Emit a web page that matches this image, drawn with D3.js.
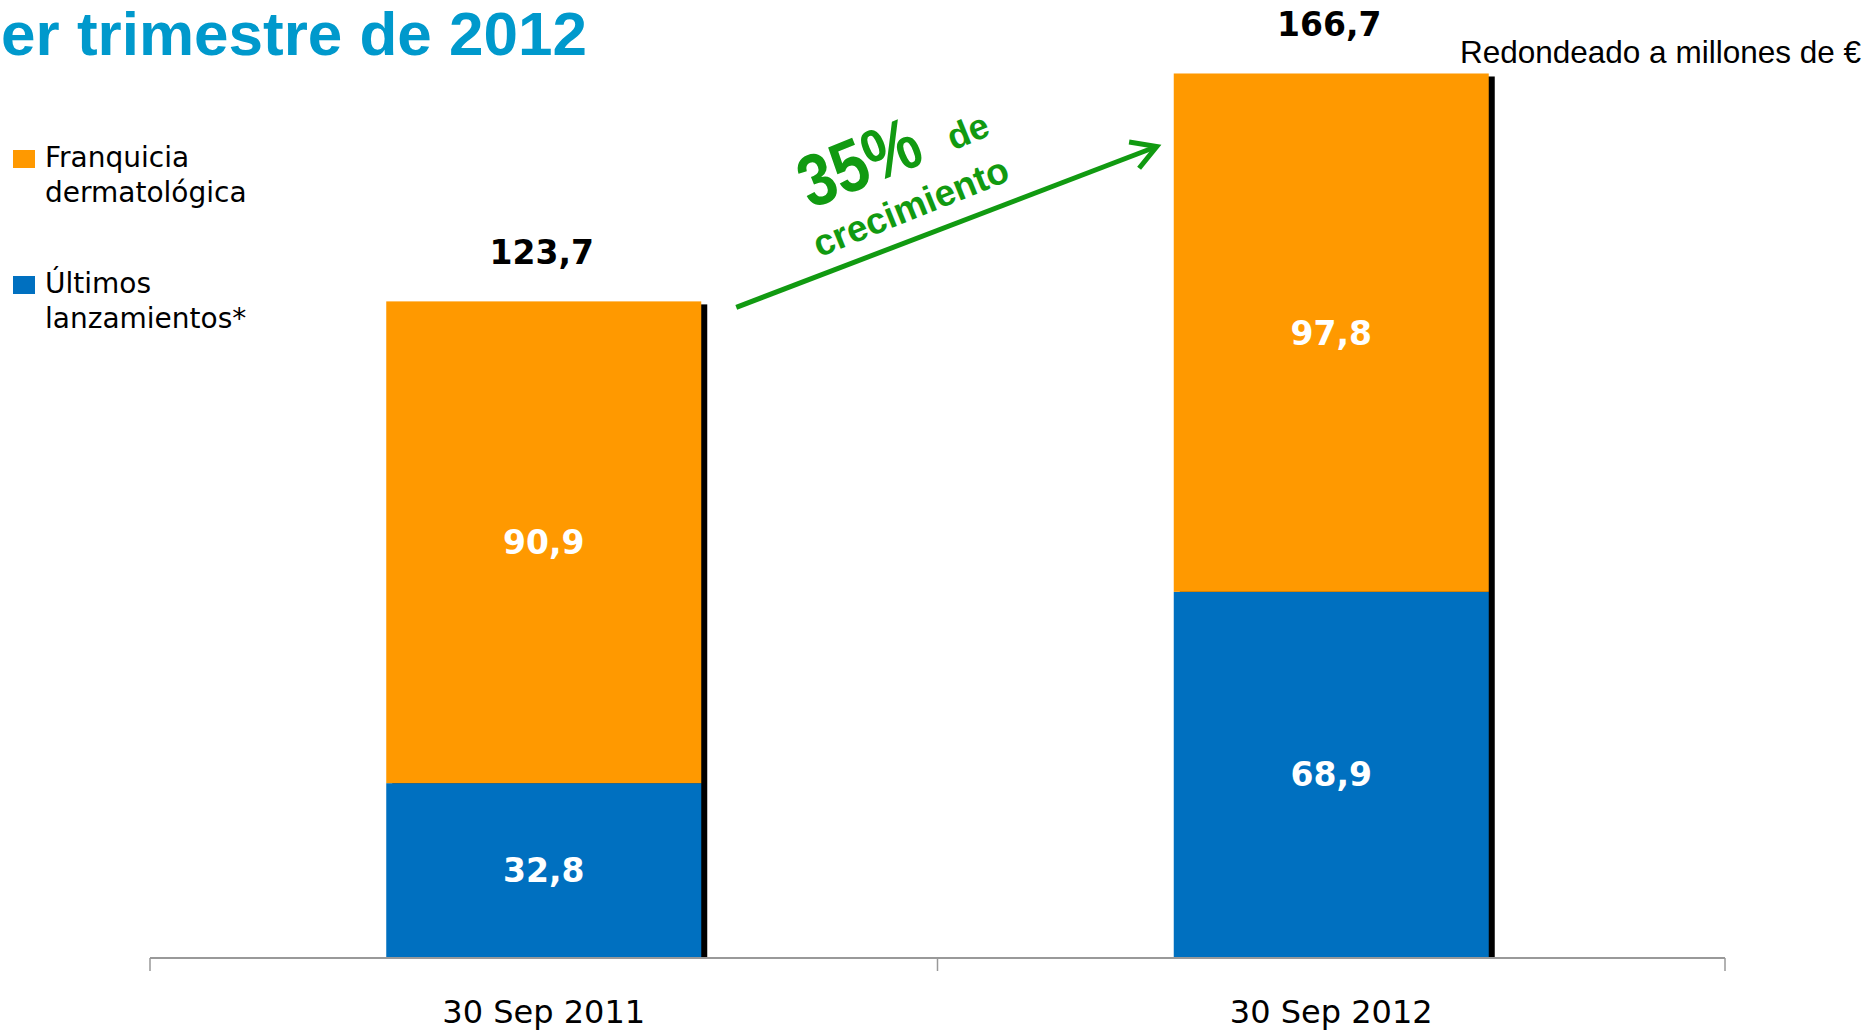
<!DOCTYPE html>
<html>
<head>
<meta charset="utf-8">
<script src="https://cdn.jsdelivr.net/npm/d3@7"></script>
<style>
  html, body { margin: 0; padding: 0; background: #fff; overflow: hidden; }
  svg { display: block; }
</style>
</head>
<body>
<div id="chart"></div>
<script>
// --- Data ---
const categories = ["30 Sep 2011", "30 Sep 2012"];
const ultimosLanzamientos = [32.8, 68.9];
const franquiciaDermatologica = [90.9, 97.8];
const totals = [123.7, 166.7];
const seriesKeys = ["ultimos", "franquicia"];
const legendLabels = [
    ["Franquicia", "dermatológica"],
    ["Últimos", "lanzamientos*"]
];
const titleText = "er trimestre de 2012";
const unitNote = "Redondeado a millones de €";
const growthPct = "35%";

const width = 1868, height = 1031;
const colors = { franquicia: "#FF9900", ultimos: "#0070C0" };
const green = "#119A11";

const esLocale = d3.formatLocale({ decimal: ",", thousands: ".", grouping: [3], currency: ["", " €"] });
const fmt = esLocale.format(".1f");

const svg = d3.select("#chart").append("svg")
    .attr("width", width)
    .attr("height", height);

// --- Scales ---
const x = d3.scaleBand().domain(categories).range([150, 1725]).padding(0);
const y = d3.scaleLinear().domain([0, 180]).range([957, 3]);
const barW = x.bandwidth() * 0.4;
const barX = c => x(c) + (x.bandwidth() - barW) / 2;

const rows = categories.map((c, i) => ({
    cat: c,
    ultimos: ultimosLanzamientos[i],
    franquicia: franquiciaDermatologica[i],
    total: totals[i]
}));
const stacked = d3.stack().keys(seriesKeys)(rows);

// --- Title (cut off on the left in the original slide) ---
svg.append("text")
    .attr("x", 587)
    .attr("y", 55)
    .attr("text-anchor", "end")
    .style("font-family", "'Liberation Sans', Arial, sans-serif")
    .style("font-weight", "bold")
    .style("font-size", "62px")
    .style("fill", "#0099CC")
    .text(titleText);

svg.append("text")
    .attr("x", 1861)
    .attr("y", 63)
    .attr("text-anchor", "end")
    .style("font-family", "'Liberation Sans', Arial, sans-serif")
    .style("font-size", "31.5px")
    .style("fill", "#000")
    .text(unitNote);

// --- Bar shadows ---
svg.append("g").selectAll("rect")
    .data(rows)
    .enter().append("rect")
    .attr("x", d => barX(d.cat) + 6)
    .attr("y", d => y(d.total) + 3)
    .attr("width", barW)
    .attr("height", d => y(0) - y(d.total) - 3)
    .style("fill", "#000");

// --- Stacked bars ---
const layers = svg.append("g").selectAll("g")
    .data(stacked)
    .enter().append("g")
    .style("fill", d => colors[d.key]);

layers.selectAll("rect")
    .data(d => d)
    .enter().append("rect")
    .attr("x", d => barX(d.data.cat))
    .attr("y", d => y(d[1]))
    .attr("width", barW)
    .attr("height", d => y(d[0]) - y(d[1]));

// segment labels
layers.selectAll("text")
    .data(d => d)
    .enter().append("text")
    .attr("x", d => barX(d.data.cat) + barW / 2)
    .attr("y", d => (y(d[0]) + y(d[1])) / 2)
    .attr("dy", "0.36em")
    .attr("text-anchor", "middle")
    .style("font-family", "'DejaVu Sans', sans-serif")
    .style("font-weight", "bold")
    .style("font-size", "33px")
    .style("fill", "#fff")
    .text(d => fmt(d[1] - d[0]));

// totals
svg.append("g").selectAll("text")
    .data(rows)
    .enter().append("text")
    .attr("x", d => barX(d.cat) + barW / 2 - 2)
    .attr("y", d => y(d.total) - 37)
    .attr("text-anchor", "middle")
    .style("font-family", "'DejaVu Sans', sans-serif")
    .style("font-weight", "bold")
    .style("font-size", "33px")
    .style("fill", "#000")
    .text(d => fmt(d.total));

// --- Category axis ---
const axisG = svg.append("g").attr("transform", `translate(0,${y(0) + 1})`);
axisG.append("line")
    .attr("x1", x.range()[0]).attr("x2", x.range()[1])
    .attr("y1", 0).attr("y2", 0)
    .style("stroke", "#999").style("stroke-width", 2);
const tickXs = categories.map(c => x(c)).concat([x.range()[1]]);
axisG.selectAll(".tick")
    .data(tickXs)
    .enter().append("line")
    .attr("x1", d => d).attr("x2", d => d)
    .attr("y1", 0).attr("y2", 13)
    .style("stroke", "#999").style("stroke-width", 1.5);
axisG.selectAll(".cat")
    .data(categories)
    .enter().append("text")
    .attr("x", d => x(d) + x.bandwidth() / 2)
    .attr("y", 65)
    .attr("text-anchor", "middle")
    .style("font-family", "'DejaVu Sans', sans-serif")
    .style("font-size", "32px")
    .style("fill", "#000")
    .text(d => d);

// --- Legend ---
const legend = svg.append("g");
const legendKeys = ["franquicia", "ultimos"];
const legendTop = [150, 276];
legendKeys.forEach((k, i) => {
    legend.append("rect")
        .attr("x", 13).attr("y", legendTop[i])
        .attr("width", 22).attr("height", 18)
        .style("fill", colors[k]);
    legend.append("text")
        .attr("x", 45)
        .attr("y", legendTop[i] + 17)
        .style("font-family", "'DejaVu Sans', sans-serif")
        .style("font-size", "28px")
        .style("fill", "#000")
        .selectAll("tspan")
        .data(legendLabels[i])
        .enter().append("tspan")
        .attr("x", 45)
        .attr("dy", (d, j) => j === 0 ? 0 : 35)
        .text(d => d);
});

// --- Growth arrow ---
const x0 = barX(categories[0]) + barW + 35, y0 = y(totals[0]) + 6;
const x1 = barX(categories[1]) - 17, y1 = y(totals[1]) + 73;
const ang = Math.atan2(y1 - y0, x1 - x0);
const armLen = 28, armAng = Math.PI / 6;

const arrow = svg.append("g")
    .style("stroke", green)
    .style("stroke-width", 5)
    .style("fill", "none");
arrow.append("line")
    .attr("x1", x0).attr("y1", y0)
    .attr("x2", x1).attr("y2", y1);
arrow.append("path")
    .attr("d", d3.line()([
        [x1 - armLen * Math.cos(ang - armAng), y1 - armLen * Math.sin(ang - armAng)],
        [x1, y1],
        [x1 - armLen * Math.cos(ang + armAng), y1 - armLen * Math.sin(ang + armAng)]
    ]))
    .style("stroke-linejoin", "miter");

const growth = svg.append("g")
    .attr("transform", `translate(${x0 + 83},${y0 - 50}) rotate(-22)`)
    .style("font-family", "'Liberation Sans', Arial, sans-serif")
    .style("font-weight", "bold")
    .style("fill", green);
growth.append("text")
    .attr("transform", "translate(10,-48) scale(0.92,1.08)")
    .style("font-size", "68px")
    .text(growthPct);
growth.append("text")
    .attr("x", 164).attr("y", -49)
    .style("font-size", "36px")
    .text("de");
growth.append("text")
    .attr("x", 0).attr("y", 0)
    .style("font-size", "37px")
    .text("crecimiento");
</script>
</body>
</html>
